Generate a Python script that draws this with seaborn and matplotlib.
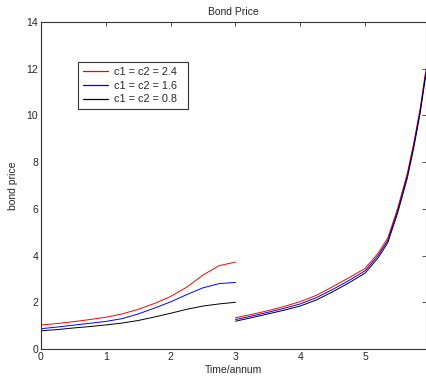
import matplotlib
matplotlib.use("Agg")
import matplotlib.pyplot as plt
import seaborn as sns
import pandas as pd
from matplotlib.lines import Line2D

# Segment 1 (0..3)
t1 = [0, 0.25, 0.5, 0.75, 1, 1.25, 1.5, 1.75, 2, 2.25, 2.5, 2.75, 3]
red1 = [1.03, 1.09, 1.17, 1.26, 1.36, 1.50, 1.70, 1.95, 2.25, 2.65, 3.17, 3.57, 3.72]
blue1 = [0.87, 0.94, 1.02, 1.10, 1.18, 1.30, 1.50, 1.75, 2.02, 2.33, 2.62, 2.80, 2.85]
black1 = [0.78, 0.83, 0.90, 0.96, 1.03, 1.11, 1.22, 1.37, 1.53, 1.70, 1.84, 1.93, 2.00]

# Segment 2 (3..6)
t2 = [3, 3.25, 3.5, 3.75, 4, 4.25, 4.5, 4.75, 5, 5.2, 5.35, 5.5, 5.65, 5.75, 5.85, 5.93, 5.96]
red2 = [1.34, 1.48, 1.64, 1.82, 2.03, 2.30, 2.67, 3.05, 3.45, 4.10, 4.75, 6.0, 7.5, 8.8, 10.3, 11.8, 12.2]
blue2 = [1.26, 1.41, 1.57, 1.74, 1.93, 2.20, 2.55, 2.93, 3.35, 4.00, 4.65, 5.9, 7.4, 8.7, 10.2, 11.7, 12.1]
black2 = [1.19, 1.34, 1.50, 1.66, 1.84, 2.10, 2.45, 2.83, 3.25, 3.90, 4.55, 5.8, 7.3, 8.6, 10.1, 11.6, 12.0]

labels = ["c1 = c2 = 2.4", "c1 = c2 = 1.6", "c1 = c2 = 0.8"]
colors = ["#ff0000", "#0000ff", "#000000"]

rows = []
for lab, s1, s2 in zip(labels, [red1, blue1, black1], [red2, blue2, black2]):
    for t, v in zip(t1, s1):
        rows.append((t, v, lab, 1))
    for t, v in zip(t2, s2):
        rows.append((t, v, lab, 2))
df = pd.DataFrame(rows, columns=["t", "price", "series", "seg"])

sns.set_style("white")
plt.rcParams["font.family"] = ["Liberation Sans", "DejaVu Sans"]

fig = plt.figure(figsize=(4.26, 3.81), dpi=100)
ax = fig.add_axes([41/426, 32/381, 385/426, 327/381])

sns.lineplot(data=df, x="t", y="price", hue="series", units="seg", estimator=None,
             hue_order=labels, palette=colors, linewidth=0.7, ax=ax, legend=False)

ax.set_xlim(0, 5.94)
ax.set_ylim(0, 14)
ax.set_xticks([0, 1, 2, 3, 4, 5])
ax.set_yticks(range(0, 15, 2))
ax.tick_params(direction="in", top=True, right=True, labelsize=7.5, length=3,
               width=0.6, color="#333333", pad=2)
for sp in ax.spines.values():
    sp.set_linewidth(0.8)
    sp.set_color("#333333")
ax.set_title("Bond Price", fontsize=7.5, pad=5)
ax.set_xlabel("Time/annum", fontsize=7.5, labelpad=2)
ax.set_ylabel("bond price", fontsize=7.5, labelpad=6)

handles = [Line2D([], [], color=c, lw=0.9) for c in colors]
leg = ax.legend(handles, labels, loc="upper left",
                bbox_to_anchor=(37/385, (349-62)/327, 110/385, 0.0), mode="expand",
                fontsize=7.8, frameon=True, fancybox=False, edgecolor="black",
                handlelength=2.3, borderpad=0.45, labelspacing=0.35, handletextpad=0.6,
                borderaxespad=0.0)
leg.get_frame().set_linewidth(0.8)

fig.savefig("out.png", dpi=100)
